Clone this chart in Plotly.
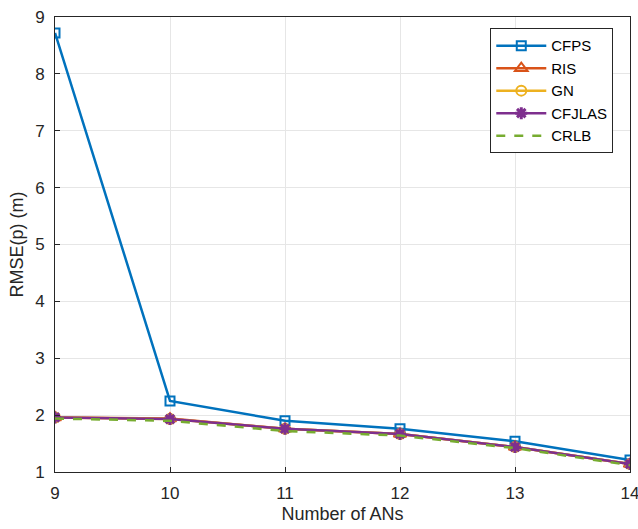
import plotly.graph_objects as go

x_ans = [9, 10, 11, 12, 13, 14]
cfps = [8.72, 2.25, 1.90, 1.76, 1.54, 1.21]
ris = [1.96, 1.94, 1.76, 1.67, 1.44, 1.14]
gn = [1.96, 1.93, 1.76, 1.67, 1.44, 1.14]
cfjlas = [1.96, 1.93, 1.76, 1.67, 1.44, 1.14]
crlb = [1.94, 1.90, 1.72, 1.64, 1.42, 1.12]
y_ticks = [1, 2, 3, 4, 5, 6, 7, 8, 9]

fig = go.Figure()
fig.add_trace(go.Scatter(x=x_ans, y=cfps, name="CFPS", mode="lines+markers",
                         line=dict(color="#0072BD", width=2.5),
                         marker=dict(symbol="square-open", size=9, color="#0072BD", line=dict(width=2))))
fig.add_trace(go.Scatter(x=x_ans, y=ris, name="RIS", mode="lines+markers",
                         line=dict(color="#D95319", width=2.5),
                         marker=dict(symbol="triangle-up-open", size=11, color="#D95319", line=dict(width=2))))
fig.add_trace(go.Scatter(x=x_ans, y=gn, name="GN", mode="lines+markers",
                         line=dict(color="#EDB120", width=2.5),
                         marker=dict(symbol="circle-open", size=10, color="#EDB120", line=dict(width=2))))
fig.add_trace(go.Scatter(x=x_ans, y=cfjlas, name="CFJLAS", mode="lines+markers",
                         line=dict(color="#7E2F8E", width=2.5),
                         marker=dict(symbol="asterisk-open", size=10, color="#7E2F8E", line=dict(width=3, color="#7E2F8E"))))
fig.add_trace(go.Scatter(x=x_ans, y=crlb, name="CRLB", mode="lines",
                         line=dict(color="#77AC30", width=2.5, dash="dash")))

axis_common = dict(showline=True, linecolor="#262626", linewidth=1, mirror=True,
                   showgrid=True, gridcolor="#E6E6E6", gridwidth=1, zeroline=False,
                   ticks="inside", ticklen=5, tickcolor="#262626", ticklabeloverflow="allow",
                   automargin=False,
                   tickfont=dict(family="Liberation Sans, Arial", size=17, color="#262626"))

fig.update_layout(
    width=638, height=529,
    margin=dict(l=55, r=8, t=17, b=57),
    paper_bgcolor="white", plot_bgcolor="white",
    xaxis=dict(range=[9, 14], tickvals=x_ans, ticklabelstandoff=6,
               title=dict(text="Number of ANs", font=dict(family="Liberation Sans, Arial", size=18, color="#262626"), standoff=4),
               **axis_common),
    yaxis=dict(range=[1, 9], tickvals=y_ticks, ticklabelstandoff=6,
               title=dict(text="RMSE(p) (m)", font=dict(family="Liberation Sans, Arial", size=18, color="#262626"), standoff=6),
               **axis_common),
    legend=dict(x=0.757, y=0.975, xanchor="left", yanchor="top",
                bgcolor="white", bordercolor="#262626", borderwidth=1,
                font=dict(family="Liberation Sans, Arial", size=15, color="black"),
                tracegroupgap=0, itemwidth=50, entrywidth=80),
    showlegend=True,
)

fig.write_html("out.html")
